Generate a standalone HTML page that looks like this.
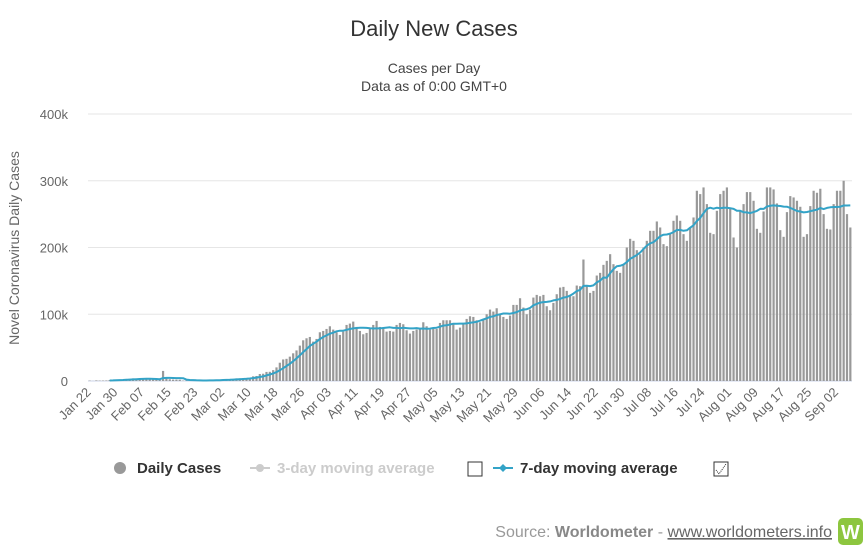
<!DOCTYPE html>
<html><head><meta charset="utf-8"><style>
html,body{margin:0;padding:0;background:#fff;}
svg{display:block;font-family:"Liberation Sans","DejaVu Sans",sans-serif;}
</style></head><body>
<svg id="chart" width="868" height="552" viewBox="0 0 868 552">
<text x="434" y="36" text-anchor="middle" font-size="22" fill="#333">Daily New Cases</text>
<text x="434" y="73" text-anchor="middle" font-size="14" fill="#444">Cases per Day</text>
<text x="434" y="91" text-anchor="middle" font-size="14" fill="#444">Data as of 0:00 GMT+0</text>
<text transform="translate(19,248) rotate(-90)" text-anchor="middle" font-size="14" fill="#666">Novel Coronavirus Daily Cases</text>
<g id="grid"></g><g id="bars"></g><g id="line"></g><g id="xlabels"></g>
<g>
<g><circle cx="120" cy="468" r="6" fill="#999"/><text x="137" y="473" font-size="15" font-weight="bold" fill="#333">Daily Cases</text></g>
<g><line x1="250" y1="468" x2="270" y2="468" stroke="#ccc" stroke-width="2"/><circle cx="260" cy="468" r="4" fill="#ccc"/><text x="277" y="473" font-size="15" font-weight="bold" fill="#ccc">3-day moving average</text></g>
<rect x="468" y="462" width="14" height="14" fill="#fff" stroke="#333"/>
<g><line x1="493" y1="468" x2="513" y2="468" stroke="#33a3c7" stroke-width="2"/><path d="M503 464 L507 468 L503 472 L499 468Z" fill="#33a3c7"/><text x="520" y="473" font-size="15" font-weight="bold" fill="#333">7-day moving average</text></g>
<g><rect x="714" y="462" width="14" height="14" fill="#fff" stroke="#333"/><path d="M716 470 L719 474 L726 464" stroke="#333" fill="none" stroke-width="1" stroke-dasharray="1,1"/></g>
</g>
<text x="832" y="537" text-anchor="end" font-size="16" fill="#999">Source: <tspan font-weight="bold" fill="#888">Worldometer</tspan> - <tspan fill="#666" text-decoration="underline">www.worldometers.info</tspan></text>
<g><rect x="838" y="518" width="25" height="27" rx="5" fill="#8dc63f"/><text x="850.5" y="539" text-anchor="middle" font-size="20" font-weight="bold" fill="#fff">W</text></g>
</svg>
<script>
const yTicks=[0,100,200,300,400];
const yTickLabels=["0","100k","200k","300k","400k"];
const xTickLabels=["Jan 22","Jan 30","Feb 07","Feb 15","Feb 23","Mar 02","Mar 10","Mar 18","Mar 26","Apr 03","Apr 11","Apr 19","Apr 27","May 05","May 13","May 21","May 29","Jun 06","Jun 14","Jun 22","Jun 30","Jul 08","Jul 16","Jul 24","Aug 01","Aug 09","Aug 17","Aug 25","Sep 02"];
const casesJan=[0.6,0.1,0.9,0.6,0.7,0.8,1.5,1.8,1.7,2.0];
const casesFeb=[2.1,2.6,3.2,3.9,3.7,3.2,3.4,2.7,3.0,2.5,2.0,2.0,15.1,5.1,2.6,2.1,2.0,1.9,0.6,0.6,1.0,0.9,0.6,0.6,0.9,0.9,1.2,1.4,1.8];
const casesMar=[2.0,1.8,2.5,2.2,2.8,3.9,4.0,4.0,4.1,4.7,7.0,7.5,10.5,10.9,13.6,13.8,16.3,20.4,27.4,32.3,33.2,36.5,41.5,45.8,53,61,64,66,59,63,73];
const casesApr=[75,78,82,77,73,69,74,84,86,89,81,75,70,72,80,84,90,81,79,74,75,74,84,87,85,76,71,75,77,79];
const casesMay=[88,82,77,78,78,87,91,91,91,85,77,80,87,93,97,96,91,88,93,100,107,104,109,99,96,93,98,114,114,124,110];
const casesJun=[100,107,125,129,127,129,112,106,117,130,140,141,135,127,127,143,142,182,142,132,135,158,162,174,180,190,175,165,162,175];
const casesJul=[200,213,210,196,190,200,210,225,225,239,230,205,202,220,240,248,240,220,210,230,245,285,280,290,265,222,220,255,280,285,290];
const casesAug=[260,215,200,255,265,283,283,270,228,222,254,290,290,287,266,226,216,253,277,275,270,261,216,220,262,285,282,288,250,228,227];
const casesSep=[265,285,285,300,250,230];
const cases=[].concat(casesJan,casesFeb,casesMar,casesApr,casesMay,casesJun,casesJul,casesAug,casesSep);

const NS="http://www.w3.org/2000/svg";
const X0=88,X1=852,Y0=381,YT=114,YMAX=400;
const step=(X1-X0)/cases.length;
const xc=i=>X0+step*(i+0.5);
const y=v=>Y0-(v/YMAX)*(Y0-YT);
function mk(tag,attrs,parent){const e=document.createElementNS(NS,tag);for(const k in attrs)e.setAttribute(k,attrs[k]);parent.appendChild(e);return e;}
const grid=document.getElementById('grid');
yTicks.forEach((t,i)=>{
  const l=mk('line',{x1:X0,x2:X1,y1:y(t),y2:y(t),stroke:i===0?'#ccd6eb':'#e6e6e6','stroke-width':1},grid);
  
  
  const tx=mk('text',{x:68,y:y(t)+5,'text-anchor':'end','font-size':13,fill:'#666'},grid);
  tx.textContent=yTickLabels[i];
  
  
});
const bars=document.getElementById('bars');
cases.forEach((v,i)=>{
  const r=mk('rect',{x:xc(i)-1.1,y:y(v),width:2.2,height:Math.max(0,Y0-y(v)),fill:'#999'},bars);
  
  
});
let pts=[];
for(let i=6;i<cases.length;i++){let s=0;for(let j=i-6;j<=i;j++)s+=cases[j];pts.push(xc(i).toFixed(1)+','+y(s/7).toFixed(1));}
const pl=mk('polyline',{points:pts.join(' '),fill:'none',stroke:'#33a3c7','stroke-width':2,'stroke-linejoin':'round'},document.getElementById('line'));


const xl=document.getElementById('xlabels');
xTickLabels.forEach((lab,k)=>{
  const x=xc(k*8)+2;
  const t=mk('text',{x:x,y:393,'text-anchor':'end','font-size':13,fill:'#666',transform:'rotate(-45 '+x+' 393)'},xl);
  t.textContent=lab;
  
  
});
</script>
</body></html>
